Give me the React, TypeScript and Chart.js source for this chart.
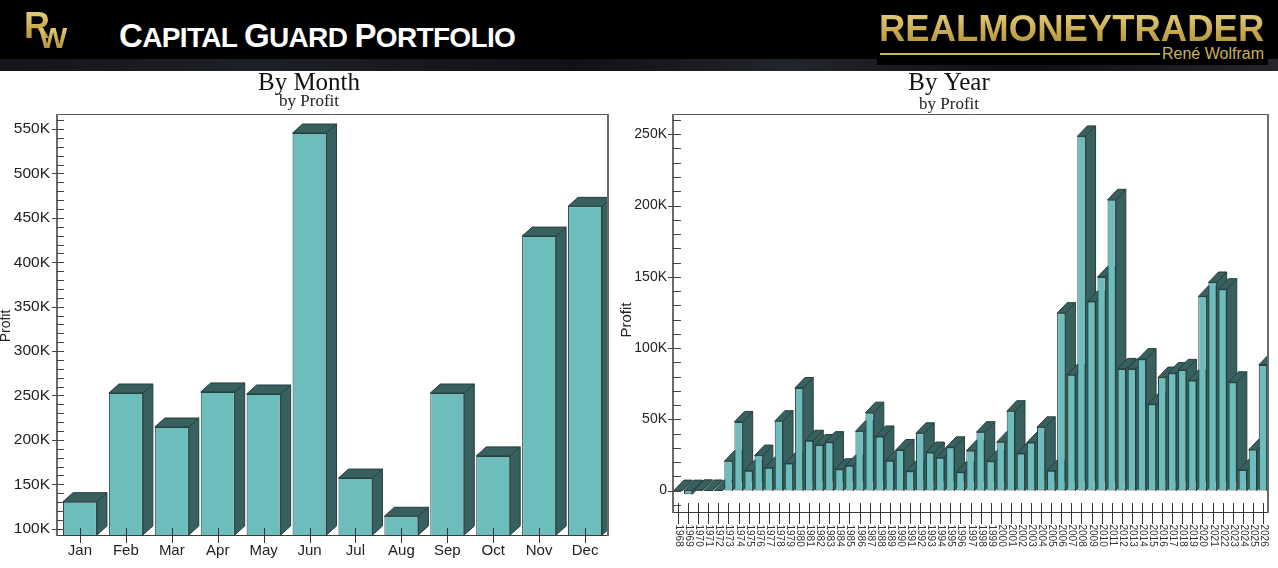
import React, { useEffect, useRef } from "react";
import { Chart, registerables } from "chart.js";

Chart.register(...registerables);

const months = ["Jan", "Feb", "Mar", "Apr", "May", "Jun", "Jul", "Aug", "Sep", "Oct", "Nov", "Dec"];
const monthProfit = [130400, 252800, 214500, 254000, 251700, 545600, 157000, 114000, 252800, 182000, 429500, 463000];
const monthMajorTicks = [100000, 150000, 200000, 250000, 300000, 350000, 400000, 450000, 500000, 550000];

const years = [
  "1968", "1969", "1970", "1971", "1972", "1973", "1974", "1975", "1976", "1977", "1978", "1979", "1980", "1981", "1982",
  "1983", "1984", "1985", "1986", "1987", "1988", "1989", "1990", "1991", "1992", "1993", "1994", "1995", "1996", "1997",
  "1998", "1999", "2000", "2001", "2002", "2003", "2004", "2005", "2006", "2007", "2008", "2009", "2010", "2011", "2012",
  "2013", "2014", "2015", "2016", "2017", "2018", "2019", "2020", "2021", "2022", "2023", "2024", "2025", "2026",
];
const yearProfit = [
  0, -2600, 200, 100, 100, 20600, 48200, 14000, 24600, 16100, 48700, 19000, 72000, 35000, 32000,
  34000, 15000, 17500, 41600, 54700, 38000, 21000, 28500, 13600, 40200, 26700, 23000, 30400, 12900, 28000,
  41000, 20600, 34000, 55700, 26000, 33700, 44400, 14000, 124500, 81200, 248500, 132700, 149800, 204000, 85400,
  85400, 92200, 60600, 79300, 82400, 84700, 77200, 136200, 146000, 141300, 76000, 14500, 28700, 88200,
];
const yearMajorTicks = [0, 50000, 100000, 150000, 200000, 250000];

const FRONT = "#6EBDBD";
const SIDE = "#38605F";
const EDGE = "#263F3F";
const AXIS = "#6A6A6A";
const INK = "#222222";

interface Spec {
  labels: string[];
  values: number[];
  majors: number[];
  min: number;
  max: number;
  minorFrom: number;
  minorTo: number;
  title: string;
  width: number;
  height: number;
  padLeft: number;
  padRight: number;
  axisWidth: number;
  xHeight: number;
  titleSize: number;
  subSize: number;
  subTop: number;
  subPad: number;
  tickSize: number;
  tickPad: number;
  barPct: number;
  dx: number;
  dy: number;
  xTickUp: number;
  xTickDown: number;
  yTickOut: number;
  yTickIn: number;
  vertical: boolean;
  yTitleX: number;
  yTitleY: number;
  yTitleSize: number;
}

function makePlugin(s: Spec) {
  return {
    id: "bars3d",
    beforeDatasetsDraw(chart: any) {
      const ctx = chart.ctx;
      const area = chart.chartArea;
      ctx.save();
      ctx.beginPath();
      ctx.rect(area.left, area.top, area.right - area.left, area.bottom - area.top);
      ctx.clip();
      ctx.lineWidth = 1;
      ctx.strokeStyle = EDGE;
      ctx.fillStyle = SIDE;
      chart.getDatasetMeta(0).data.forEach((bar: any) => {
        const base = Math.min(bar.base, area.bottom);
        const top = Math.min(bar.y, base);
        const bottom = Math.max(bar.y, base);
        const l = bar.x - bar.width / 2;
        const r = bar.x + bar.width / 2;
        ctx.beginPath();
        ctx.moveTo(r, top);
        ctx.lineTo(r + s.dx, top - s.dy);
        ctx.lineTo(r + s.dx, bottom - s.dy);
        ctx.lineTo(r, bottom);
        ctx.closePath();
        ctx.fill();
        ctx.stroke();
        ctx.beginPath();
        ctx.moveTo(l, top);
        ctx.lineTo(l + s.dx, top - s.dy);
        ctx.lineTo(r + s.dx, top - s.dy);
        ctx.lineTo(r, top);
        ctx.closePath();
        ctx.fill();
        ctx.stroke();
      });
      ctx.restore();
    },
    afterDatasetsDraw(chart: any) {
      const ctx = chart.ctx;
      const { left, right, top, bottom } = chart.chartArea;
      const x = chart.scales.x;
      const y = chart.scales.y;
      ctx.save();
      ctx.strokeStyle = "#555555";
      ctx.lineWidth = 1;
      ctx.beginPath();
      ctx.moveTo(left, top + 0.5);
      ctx.lineTo(right, top + 0.5);
      ctx.stroke();
      ctx.strokeStyle = "#3A3A3A";
      ctx.beginPath();
      ctx.moveTo(left, bottom + 0.5);
      ctx.lineTo(right, bottom + 0.5);
      ctx.stroke();
      ctx.strokeStyle = AXIS;
      ctx.lineWidth = 2;
      ctx.beginPath();
      ctx.moveTo(left, top);
      ctx.lineTo(left, bottom + 1);
      ctx.moveTo(right, top);
      ctx.lineTo(right, bottom + 1);
      ctx.stroke();
      ctx.lineWidth = 1;
      ctx.strokeStyle = "#444444";
      for (let v = s.minorFrom; v <= s.minorTo; v += 10000) {
        const py = Math.round(y.getPixelForValue(v)) + 0.5;
        const major = s.majors.includes(v);
        ctx.beginPath();
        ctx.moveTo(major ? left - s.yTickOut : left, py);
        ctx.lineTo(left + s.yTickIn, py);
        ctx.stroke();
      }
      s.labels.forEach((label, i) => {
        const px = Math.round(x.getPixelForTick(i)) + 0.5;
        ctx.strokeStyle = "#333333";
        ctx.beginPath();
        ctx.moveTo(px, bottom - s.xTickUp);
        ctx.lineTo(px, bottom + s.xTickDown);
        ctx.stroke();
        if (s.vertical) {
          ctx.save();
          ctx.translate(px, bottom + s.xTickDown + 0.5);
          ctx.rotate(Math.PI / 2);
          ctx.font = '10px "Liberation Sans"';
          ctx.fillStyle = "#333333";
          ctx.textAlign = "left";
          ctx.textBaseline = "middle";
          ctx.fillText(label, 0, 0);
          ctx.restore();
        }
      });
      ctx.save();
      ctx.translate(s.yTitleX, s.yTitleY);
      ctx.rotate(-Math.PI / 2);
      ctx.font = `${s.yTitleSize}px "Liberation Sans"`;
      ctx.fillStyle = INK;
      ctx.textAlign = "center";
      ctx.textBaseline = "middle";
      ctx.fillText("Profit", 0, 0);
      ctx.restore();
      ctx.restore();
    },
  };
}

function Panel({ spec, left }: { spec: Spec; left: number }) {
  const ref = useRef<HTMLCanvasElement>(null);
  useEffect(() => {
    const s = spec;
    const chart = new Chart(ref.current as HTMLCanvasElement, {
      type: "bar",
      data: {
        labels: s.labels,
        datasets: [
          {
            label: "Profit",
            data: s.values,
            backgroundColor: FRONT,
            borderColor: EDGE,
            borderWidth: 1,
            borderSkipped: false,
            barPercentage: s.barPct,
            categoryPercentage: 1,
          },
        ],
      },
      options: {
        animation: false,
        responsive: false,
        layout: { padding: { left: s.padLeft, right: s.padRight, top: 0, bottom: 0 } },
        plugins: {
          legend: { display: false },
          tooltip: { enabled: false },
          title: {
            display: true,
            text: s.title,
            color: "#111111",
            font: { family: '"Liberation Serif"', size: s.titleSize, weight: "normal", lineHeight: 1 },
            padding: { top: 0, bottom: 0 },
          },
          subtitle: {
            display: true,
            text: "by Profit",
            color: "#222222",
            font: { family: '"Liberation Serif"', size: s.subSize, weight: "normal", lineHeight: 1 },
            padding: { top: s.subTop, bottom: s.subPad },
          },
        },
        scales: {
          x: {
            type: "category",
            grid: { display: false, drawTicks: false },
            border: { display: false },
            afterFit: (a: any) => {
              a.height = s.xHeight;
            },
            ticks: {
              display: !s.vertical,
              autoSkip: false,
              maxRotation: 0,
              minRotation: 0,
              padding: 7,
              color: INK,
              font: { family: '"Liberation Sans"', size: 15 },
            },
          },
          y: {
            type: "linear",
            min: s.min,
            max: s.max,
            grid: { display: false, drawTicks: false },
            border: { display: false },
            afterBuildTicks: (a: any) => {
              a.ticks = s.majors.map((value) => ({ value }));
            },
            afterFit: (a: any) => {
              a.width = s.axisWidth;
            },
            ticks: {
              padding: s.tickPad,
              color: INK,
              font: { family: '"Liberation Sans"', size: s.tickSize },
              callback: (v: any) => (v === 0 ? "0" : `${Number(v) / 1000}K`),
            },
          },
        },
      },
      plugins: [makePlugin(s)],
    } as any);
    return () => chart.destroy();
  }, [spec]);
  return (
    <canvas
      ref={ref}
      width={spec.width}
      height={spec.height}
      style={{ position: "absolute", left, top: 71, width: spec.width, height: spec.height }}
    />
  );
}

const monthSpec: Spec = {
  labels: months,
  values: monthProfit,
  majors: monthMajorTicks,
  min: 92900,
  max: 567000,
  minorFrom: 100000,
  minorTo: 560000,
  title: "By Month",
  width: 618,
  height: 497,
  padLeft: 10,
  padRight: 10,
  axisWidth: 47,
  xHeight: 33,
  titleSize: 25,
  subSize: 17,
  subTop: -3,
  subPad: 4,
  tickSize: 15.5,
  tickPad: 7,
  barPct: 0.74,
  dx: 10,
  dy: 9,
  xTickUp: 7,
  xTickDown: 8,
  yTickOut: 5,
  yTickIn: 7,
  vertical: false,
  yTitleX: 6,
  yTitleY: 255,
  yTitleSize: 14,
};

const yearSpec: Spec = {
  labels: years,
  values: yearProfit,
  majors: yearMajorTicks,
  min: -15000,
  max: 264200,
  minorFrom: -10000,
  minorTo: 260000,
  title: "By Year",
  width: 658,
  height: 497,
  padLeft: 10,
  padRight: 10,
  axisWidth: 43,
  xHeight: 56,
  titleSize: 25,
  subSize: 17,
  subTop: 0,
  subPad: 1,
  tickSize: 14,
  tickPad: 6,
  barPct: 0.82,
  dx: 10,
  dy: 10.5,
  xTickUp: 9,
  xTickDown: 12,
  yTickOut: 5,
  yTickIn: 8,
  vertical: true,
  yTitleX: 7,
  yTitleY: 249,
  yTitleSize: 15,
};

const gold = "linear-gradient(180deg,#EBD98A 0%,#C9A94E 55%,#A78A38 100%)";
const goldText: React.CSSProperties = {
  background: gold,
  WebkitBackgroundClip: "text",
  backgroundClip: "text",
  color: "transparent",
};
const bigCap: React.CSSProperties = { fontSize: 33 };
const smallCap: React.CSSProperties = { fontSize: 28 };

function Header() {
  return (
    <div style={{ position: "absolute", left: 0, top: 0, width: 1278, height: 71, overflow: "hidden" }}>
      <div style={{ position: "absolute", left: 0, top: 0, width: 1278, height: 59, background: "#000" }} />
      <div
        style={{
          position: "absolute",
          left: 0,
          top: 59,
          width: 1278,
          height: 12,
          background: "linear-gradient(90deg,#14151A 0%,#1E2027 20%,#101116 45%,#23252C 62%,#0E0F12 80%,#25272D 100%)",
        }}
      />
      <div style={{ position: "absolute", left: 877, top: 0, width: 391, height: 65, background: "#000" }} />
      <span style={{ position: "absolute", left: 24, top: 6, font: 'bold 36px/40px "Liberation Sans"', ...goldText }}>R</span>
      <span style={{ position: "absolute", left: 39, top: 22, font: 'bold 30px/32px "Liberation Sans"', ...goldText }}>W</span>
      <div
        style={{
          position: "absolute",
          left: 119,
          top: 18,
          whiteSpace: "nowrap",
          color: "#fff",
          fontFamily: '"Liberation Sans"',
          fontWeight: "bold",
          lineHeight: "36px",
          letterSpacing: -0.65,
        }}
      >
        <span style={bigCap}>C</span>
        <span style={smallCap}>APITAL </span>
        <span style={bigCap}>G</span>
        <span style={smallCap}>UARD </span>
        <span style={bigCap}>P</span>
        <span style={smallCap}>ORTFOLIO</span>
      </div>
      <span
        style={{
          position: "absolute",
          left: 879,
          top: 7,
          font: 'bold 36.5px/44px "Liberation Sans"',
          whiteSpace: "nowrap",
          ...goldText,
        }}
      >
        REALMONEYTRADER
      </span>
      <div style={{ position: "absolute", left: 880, top: 53, width: 280, height: 2, background: "#D2B65A" }} />
      <span
        style={{
          position: "absolute",
          left: 1162,
          top: 45,
          font: '16px/18px "Liberation Sans"',
          color: "#C8B060",
          whiteSpace: "nowrap",
        }}
      >
        René Wolfram
      </span>
    </div>
  );
}

export default function App() {
  return (
    <div style={{ position: "absolute", left: 0, top: 0, width: 1278, height: 568, overflow: "hidden", background: "#fff" }}>
      <Header />
      <Panel spec={monthSpec} left={0} />
      <Panel spec={yearSpec} left={620} />
    </div>
  );
}
